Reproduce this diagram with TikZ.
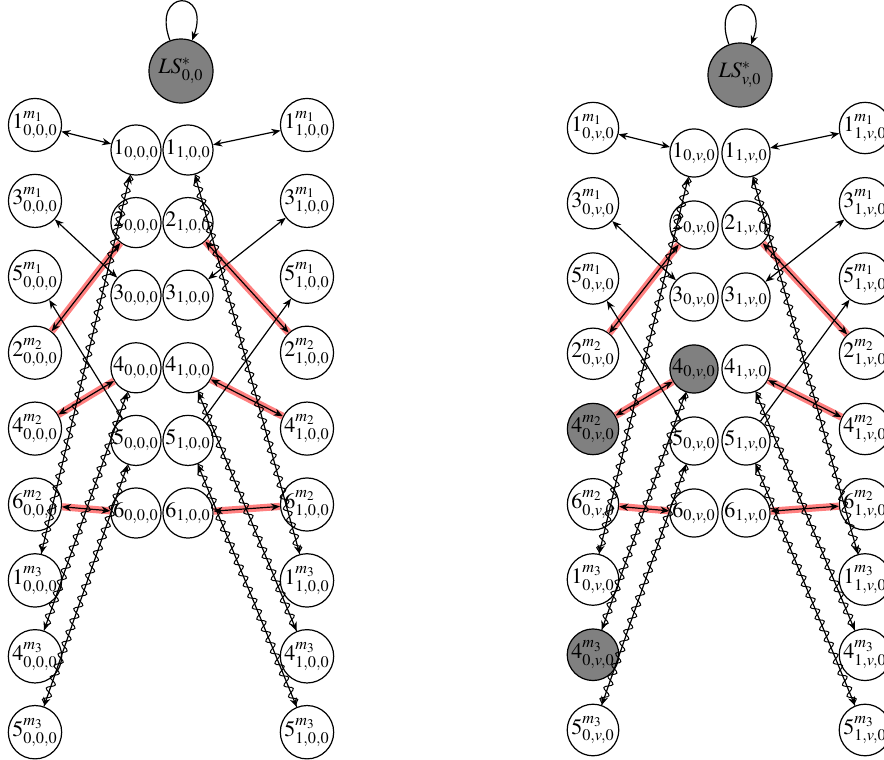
\documentclass[tikz,border=0pt]{standalone}
\usepackage{mathptmx}
\usetikzlibrary{decorations.pathmorphing,arrows.meta}
\tikzset{
  base/.style={circle, draw, line width=0.6pt, inner sep=0pt},
  innode/.style={base, minimum size=22pt},
  outnode/.style={base, minimum size=24pt},
  lsnode/.style={base, minimum size=32pt, fill=gray},
  ed/.style={line width=0.6pt},
  hl/.style={red!50, line width=3.6pt},
  wv/.style={line width=0.5pt, decorate, decoration={snake, amplitude=1.9pt, segment length=6pt}},
  >={Stealth[length=4.5pt,width=3.6pt]}
}
% #1 prefix, #2 middle index, #3 fill B4, #4 fill A5, #5 fill A8
\newcommand\mkgraph[5]{%
  \node[lsnode] (#1LS) at (\xm,\yls) {$LS^*_{#2,0}$};
  \foreach \d/\m/\f [count=\r] in {1/1/none,3/1/none,5/1/none,2/2/none,4/2/#4,6/2/none,1/3/none,4/3/#5,5/3/none}{
    \node[outnode, fill=\f] (#1A\r) at (\xa,{\yo+(\r-1)*\dyo}) {$\d^{m_\m}_{0,#2,0}$};
    \node[outnode] (#1D\r) at (\xd,{\yo+(\r-1)*\dyo}) {$\d^{m_\m}_{1,#2,0}$};
  }
  \foreach \k/\f in {1/none,2/none,3/none,4/#3,5/none,6/none}{
    \node[innode, fill=\f] (#1B\k) at (\xb,{\yi+(\k-1)*\dyi}) {$\k_{0,#2,0}$};
    \node[innode] (#1C\k) at (\xc,{\yi+(\k-1)*\dyi}) {$\k_{1,#2,0}$};
  }
  \draw[ed,->] (#1LS.110) .. controls +(-19,-52) and +(19,-52) .. (#1LS.70);
  \foreach \s/\t in {A/B,D/C}{
    \draw[hl] (#1\t2) -- (#1\s4);
    \draw[hl] (#1\t4) -- (#1\s5);
    \draw[hl] (#1\t6) -- (#1\s6);
    \draw[ed,<->] (#1\t1) -- (#1\s1);
    \draw[ed,<->] (#1\t3) -- (#1\s2);
    \draw[ed,->] (#1\t5) -- (#1\s3);
    \draw[ed,<->] (#1\t2) -- (#1\s4);
    \draw[ed,<->] (#1\t4) -- (#1\s5);
    \draw[ed,<->] (#1\t6) -- (#1\s6);
    \draw[ed,<->] (#1\t1) -- (#1\s7);
    \draw[ed,<->] (#1\t4) -- (#1\s8);
    \draw[ed,<->] (#1\t5) -- (#1\s9);
    \draw[wv] (#1\t1) -- (#1\s7);
    \draw[wv] (#1\t4) -- (#1\s8);
    \draw[wv] (#1\t5) -- (#1\s9);
  }
}
\begin{document}
\begin{tikzpicture}[x=0.5pt, y=-0.5pt, font=\fontsize{11}{13}\selectfont]
\useasboundingbox (0,0) rectangle (884,760);
% left graph
\def\xa{35}\def\xb{136}\def\xc{188}\def\xd{307}\def\xm{181}
\def\yls{71}\def\yo{125}\def\dyo{75.9}\def\yi{150}\def\dyi{72.6}
\mkgraph{L}{0}{none}{none}{none}
% right graph
\def\xa{593}\def\xb{694}\def\xc{746}\def\xd{865}\def\xm{740}
\def\yls{75}\def\yo{128}\def\dyo{75.25}\def\yi{153}\def\dyi{72}
\mkgraph{R}{v}{gray}{gray}{gray}
\end{tikzpicture}
\end{document}
